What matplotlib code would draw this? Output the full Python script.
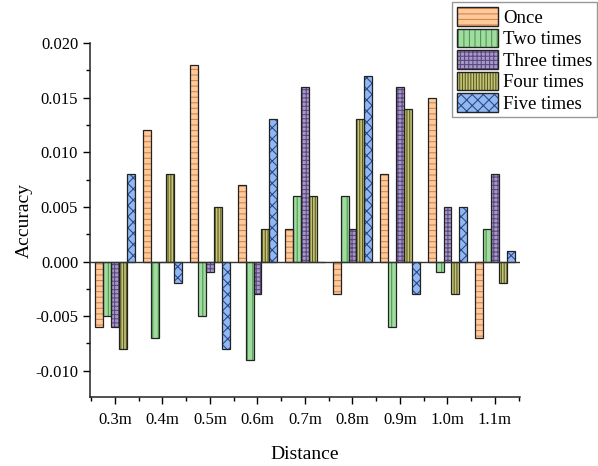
import matplotlib
matplotlib.use("Agg")
import matplotlib.pyplot as plt
from matplotlib.patches import Patch, Rectangle
import matplotlib.ticker as ticker
import numpy as np

plt.rcParams["font.family"] = ["Liberation Serif", "DejaVu Serif"]
plt.rcParams["hatch.linewidth"] = 0.8

distances = ["0.3m", "0.4m", "0.5m", "0.6m", "0.7m", "0.8m", "0.9m", "1.0m", "1.1m"]
series = ["Once", "Two times", "Three times", "Four times", "Five times"]

once = [-0.006, 0.012, 0.018, 0.007, 0.003, -0.003, 0.008, 0.015, -0.007]
two_times = [-0.005, -0.007, -0.005, -0.009, 0.006, 0.006, -0.006, -0.001, 0.003]
three_times = [-0.006, 0.0, -0.001, -0.003, 0.016, 0.003, 0.016, 0.005, 0.008]
four_times = [-0.008, 0.008, 0.005, 0.003, 0.006, 0.013, 0.014, -0.003, -0.002]
five_times = [0.008, -0.002, -0.008, 0.013, 0.0, 0.017, -0.003, 0.005, 0.001]

values = [once, two_times, three_times, four_times, five_times]
fills = ["#FFC99A", "#A0DCA0", "#A898C8", "#C4C47A", "#92B8F0"]
hatch_cols = ["#D08850", "#4E9A4E", "#5A4A80", "#5C5C1E", "#2A4A90"]
hatches = ["---", "|||", "++++", "||||||", "xxx"]

fig = plt.figure(figsize=(5.98, 4.66), dpi=100)
ax = fig.add_axes([0.1505, 0.148, 0.719, 0.7597])

x = np.arange(len(distances))
width = 0.165
for i, vals in enumerate(values):
    pos = x + (i - 2) * width
    # fill + hatch, then a dark outline on top
    ax.bar(pos, vals, width, color=fills[i], edgecolor=hatch_cols[i],
           hatch=hatches[i], linewidth=0, zorder=2)
    ax.bar(pos, vals, width, fill=False, edgecolor="#222222",
           linewidth=0.9, zorder=3)

ax.axhline(0, color="#333333", linewidth=1.0, zorder=4)

ax.set_xlim(-0.526, 8.526)
ax.set_ylim(-0.0124, 0.020)
ax.set_xticks(x)
ax.set_xticklabels(distances)
ax.xaxis.set_minor_locator(ticker.FixedLocator(np.arange(-0.5, 9.0, 1.0)))
ax.yaxis.set_major_locator(ticker.MultipleLocator(0.005))
ax.yaxis.set_minor_locator(ticker.MultipleLocator(0.0025))
ax.yaxis.set_major_formatter(ticker.FormatStrFormatter("%.3f"))

for side in ["top", "right"]:
    ax.spines[side].set_visible(False)
for side in ["left", "bottom"]:
    ax.spines[side].set_linewidth(1.1)
    ax.spines[side].set_color("#222222")

ax.tick_params(which="major", direction="out", length=5, width=1.0, labelsize=12)
ax.tick_params(which="minor", direction="out", length=3, width=1.0)
ax.tick_params(axis="x", pad=6)

ax.set_xlabel("Distance", fontsize=14, labelpad=13)
ax.set_ylabel("Accuracy", fontsize=14, labelpad=2)

handles = [Patch(facecolor=fills[i], edgecolor=hatch_cols[i], hatch=hatches[i],
                 linewidth=0) for i in range(5)]
leg = fig.legend(handles, series, loc="upper right", bbox_to_anchor=(0.999, 0.995),
                 fontsize=13.5, frameon=True, fancybox=False, edgecolor="#999999",
                 framealpha=1, handlelength=2.2, handleheight=1.15,
                 labelspacing=0.1, handletextpad=0.3, borderpad=0.25,
                 borderaxespad=0)

# dark outline around each legend swatch
fig.canvas.draw()
for p in leg.get_patches():
    bb = p.get_window_extent()
    fig.patches.append(Rectangle((bb.x0, bb.y0), bb.width, bb.height, fill=False,
                                 edgecolor="#222222", linewidth=1.0,
                                 transform=None, zorder=10))

fig.savefig("out.png", dpi=100)
